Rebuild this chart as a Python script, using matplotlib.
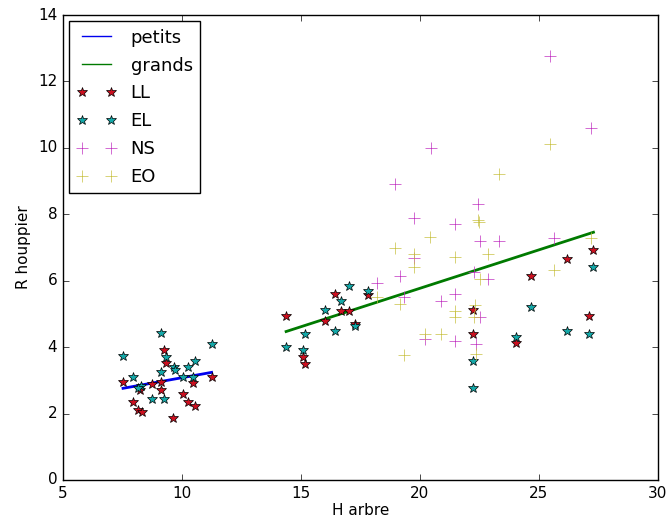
import numpy as np
import matplotlib
matplotlib.use('Agg')
import matplotlib.pyplot as plt

# === Data ===
# LL (red stars)
ll_h = [7.53, 9.25, 9.32, 9.14, 8.73, 8.24, 9.14, 7.95, 8.14, 8.33, 9.65, 10.05, 10.24, 10.57,
        10.46, 11.25, 14.38, 16.43, 16.01, 16.69, 17.01, 17.82, 17.29, 15.11, 15.17,
        27.29, 26.18, 24.66, 22.25, 22.25, 24.05, 27.1]
ll_r = [2.95, 3.90, 3.52, 2.95, 2.90, 2.70, 2.72, 2.35, 2.12, 2.06, 1.86, 2.59, 2.34, 2.24,
        2.93, 3.10, 4.93, 5.59, 4.79, 5.09, 5.10, 5.58, 4.70, 3.70, 3.50,
        6.93, 6.65, 6.14, 5.13, 4.39, 4.12, 4.94]

# EL (cyan stars)
el_h = [7.53, 9.14, 11.25, 9.35, 7.95, 8.27, 8.17, 9.14, 9.66, 9.73, 10.25, 10.57, 10.04,
        10.46, 8.73, 9.25, 17.01, 17.82, 16.69, 16.01, 17.29, 15.17, 16.43, 14.38, 15.11,
        27.29, 24.66, 26.18, 27.1, 24.05, 22.25, 22.25]
el_r = [3.74, 4.44, 4.10, 3.70, 3.10, 2.84, 2.78, 3.25, 3.40, 3.30, 3.40, 3.59, 3.10,
        3.10, 2.45, 2.45, 5.85, 5.70, 5.38, 5.12, 4.65, 4.39, 4.50, 3.99, 3.90,
        6.40, 5.20, 4.50, 4.39, 4.30, 3.57, 2.78]

# NS (magenta crosses)
ns_h = [25.46, 27.19, 20.45, 18.95, 22.46, 19.75, 21.46, 22.52, 23.34, 25.65, 19.75, 22.28,
        19.15, 22.87, 18.2, 19.35, 21.46, 20.87, 22.52, 20.23, 21.46, 22.35]
ns_r = [12.78, 10.59, 10.0, 8.91, 8.31, 7.89, 7.72, 7.20, 7.20, 7.30, 6.69, 6.26,
        6.14, 6.06, 5.93, 5.51, 5.60, 5.40, 4.92, 4.23, 4.18, 4.10]

# EO (yellow crosses)
eo_h = [25.46, 23.34, 22.45, 22.49, 20.43, 27.19, 18.95, 19.75, 22.87, 21.46, 19.75, 25.65,
        22.52, 18.2, 19.15, 22.31, 21.46, 21.46, 22.28, 20.23, 20.87, 22.35, 19.33]
eo_r = [10.11, 9.20, 7.82, 7.76, 7.31, 7.30, 7.0, 6.80, 6.80, 6.70, 6.40, 6.31,
        6.06, 5.51, 5.30, 5.26, 5.10, 4.92, 4.92, 4.40, 4.39, 3.80, 3.76]

# regression lines
petits_h = [7.53, 11.25]
petits_r = [2.76, 3.24]
grands_h = [14.38, 27.29]
grands_r = [4.47, 7.46]

plt.style.use('classic')
plt.rcParams['font.size'] = 11
fig = plt.figure(figsize=(6.68, 5.2), dpi=100, facecolor='white')
ax = fig.add_axes([0.094, 0.077, 0.891, 0.894])

ax.plot(petits_h, petits_r, '-', color='#0000ee', lw=2, label='petits')
ax.plot(grands_h, grands_r, '-', color='#007a00', lw=2, label='grands')
ax.plot(ll_h, ll_r, '*', color='#cc1020', ms=7, label='LL')
ax.plot(el_h, el_r, '*', color='#14a8a8', ms=7, label='EL')
ax.plot(ns_h, ns_r, '+', color='#c030c0', ms=8, label='NS')
ax.plot(eo_h, eo_r, '+', color='#c8c040', ms=8, label='EO')

ax.set_xlim(5, 30)
ax.set_ylim(0, 14)
ax.set_xlabel('H arbre', labelpad=2)
ax.set_ylabel('R houppier')
leg = ax.legend(loc='upper left', numpoints=2, fontsize=13, labelspacing=0.55,
                handlelength=2.2, borderaxespad=0.35)
for h in leg.get_lines()[:2]:
    h.set_linewidth(1)

fig.savefig('out.png', dpi=100, facecolor='white')
